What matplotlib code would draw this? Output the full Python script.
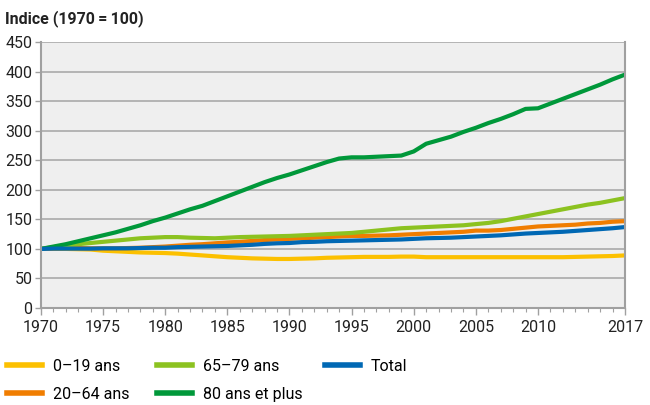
import matplotlib.pyplot as plt
from matplotlib.ticker import MultipleLocator

plt.rcParams['font.family'] = ['Roboto', 'DejaVu Sans']

years = list(range(1970, 2018))

age_0_19 = [100, 100, 100, 99.5, 99, 97, 96, 95, 94, 93.5,
            93, 92, 90.5, 89, 87.5, 86, 85, 84, 83.5, 83,
            83, 83.5, 84, 85, 85.5, 86, 86.5, 86.5, 86.5, 87,
            87, 86, 86, 86, 86, 86, 86, 86, 86, 86,
            86, 86, 86, 86.5, 87, 87.5, 88, 89]
age_20_64 = [100, 101, 101.5, 101.5, 101, 101, 101, 101.5, 102, 103,
             104, 105.5, 107, 108, 109.5, 111, 112, 113.5, 115, 116,
             117, 118, 119, 120, 121, 122, 122, 122.5, 123, 124,
             125, 126, 127, 128, 129, 131, 131, 132, 134, 136,
             138, 139, 140, 141, 143, 144, 146, 147]
age_65_79 = [100, 103, 106, 108, 110, 112, 114, 116, 118, 119,
             120, 120, 119, 118.5, 118, 119, 120, 120.5, 121, 121.5,
             122, 123, 124, 125, 126, 127, 129, 131, 133, 135,
             136, 137, 138, 139, 140, 142, 144, 147, 151, 155,
             159, 163, 167, 171, 175, 178, 182, 186]
age_80_plus = [100, 104, 108, 113, 118, 123, 128, 134, 140, 147,
               153, 160, 167, 173, 181, 189, 197, 205, 213, 220,
               226, 233, 240, 247, 253, 255, 255, 256, 257, 258,
               265, 278, 284, 290, 298, 305, 313, 320, 328, 337,
               338, 346, 354, 362, 370, 378, 387, 395]
total = [100, 100.5, 100.5, 100.5, 100.5, 101, 101, 101, 101.5, 102,
         102, 103, 103.5, 104, 104.5, 105, 106, 107, 108.5, 109.5,
         110, 111.5, 112, 113, 113.5, 114, 114.5, 115, 115.5, 116,
         117, 118, 118.5, 119, 120, 121, 122, 123, 124.5, 126,
         127, 128, 129, 130.5, 132, 133.5, 135, 137]

xticks = [1970, 1975, 1980, 1985, 1990, 1995, 2000, 2005, 2010, 2017]

fig = plt.figure(figsize=(6.5, 4.05), dpi=100)
ax = fig.add_axes([0.063, 0.2395, 0.8985, 0.6565])
ax.set_facecolor('#efefef')

lw = 3
l1, = ax.plot(years, age_0_19, color='#fcc000', lw=lw, label='0\u201319 ans')
l2, = ax.plot(years, age_20_64, color='#f07d00', lw=lw, label='20\u201364 ans')
l3, = ax.plot(years, age_65_79, color='#8cc220', lw=lw, label='65\u201379 ans')
l4, = ax.plot(years, age_80_plus, color='#00983a', lw=lw, label='80 ans et plus')
l5, = ax.plot(years, total, color='#0068b4', lw=lw, label='Total')

ax.set_xlim(1970, 2017)
ax.set_ylim(0, 450)
ax.set_xticks(xticks)
ax.xaxis.set_minor_locator(MultipleLocator(1))
ax.yaxis.set_major_locator(MultipleLocator(50))
ax.grid(axis='y', color='#aaaaaa', lw=1.2)
ax.set_axisbelow(True)

for s in ['left', 'bottom', 'right']:
    ax.spines[s].set_color('#a0a0a0')
    ax.spines[s].set_linewidth(1.5)
ax.spines['top'].set_visible(False)

ax.tick_params(axis='both', labelsize=11.5, colors='#a0a0a0', labelcolor='#222222')
ax.tick_params(axis='x', which='major', length=5, width=1)
ax.tick_params(axis='x', which='minor', length=3, width=0.8, colors='#a0a0a0')
ax.tick_params(axis='y', length=4, width=1, pad=2)

fig.text(0.008, 0.955, 'Indice (1970\u2009=\u2009100)', fontsize=11.5, fontweight='bold',
         color='#222222', va='center')

# legend in three manually placed columns
cols = [([l1, l2], 7), ([l3, l4], 157), ([l5], 325)]
for handles, xpx in cols:
    leg = fig.legend(handles=handles, loc='upper left',
                     bbox_to_anchor=(xpx / 650, 1 - 359 / 405), frameon=False,
                     fontsize=11.5, handlelength=2.2, handletextpad=0.65,
                     labelspacing=0.8, borderpad=0, borderaxespad=0)
    for line in leg.get_lines():
        line.set_linewidth(4)

fig.savefig('out.png', dpi=100)
